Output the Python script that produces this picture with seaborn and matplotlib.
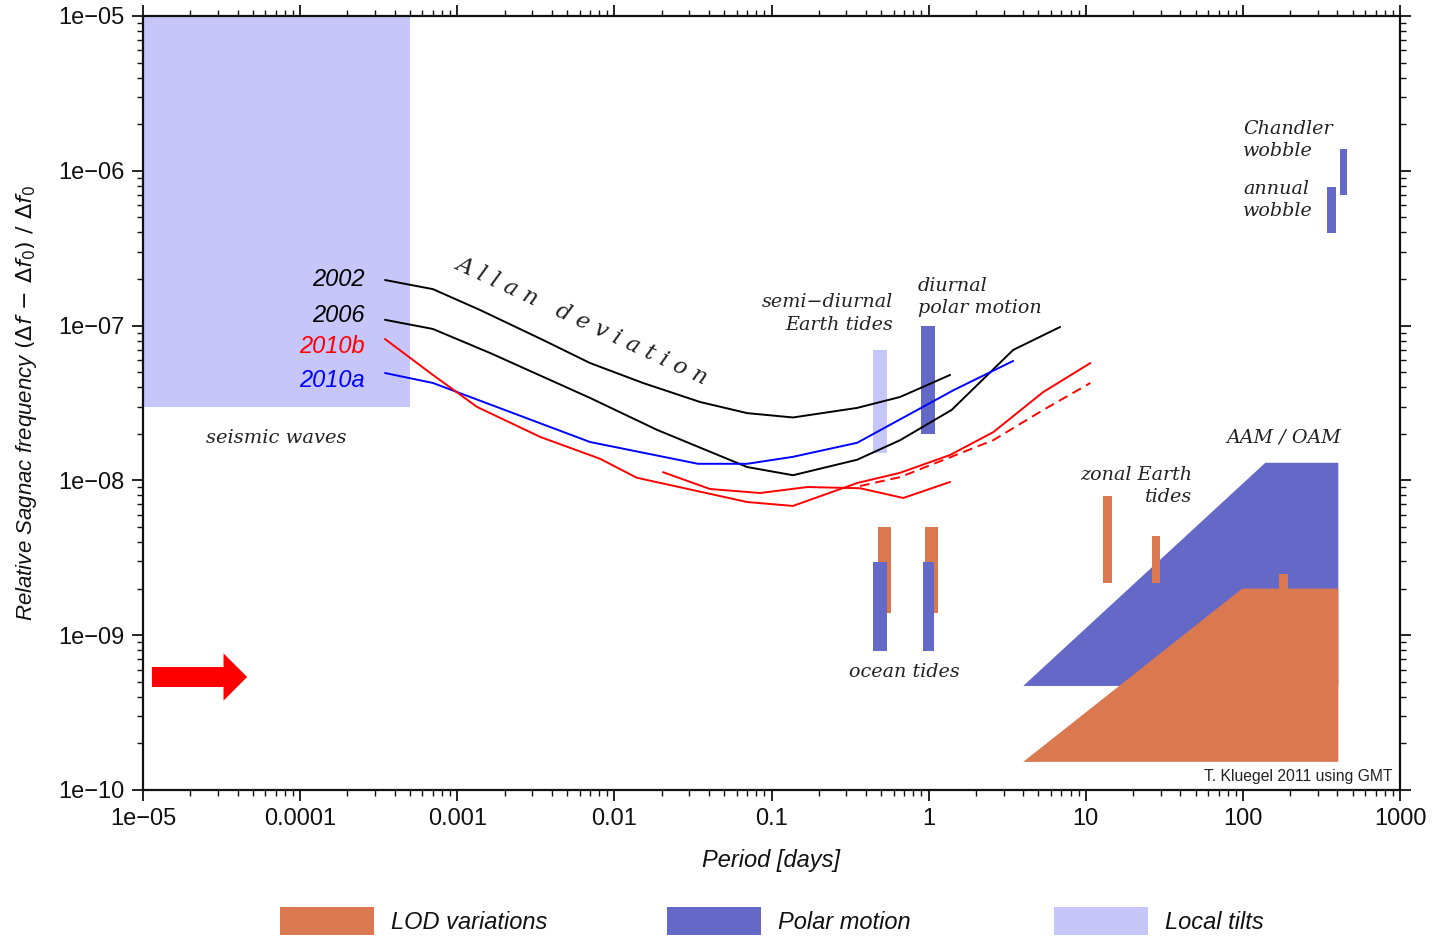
import matplotlib
matplotlib.use("Agg")
import matplotlib.pyplot as plt
import seaborn as sns
import pandas as pd
from matplotlib.patches import Patch, ArrowStyle
from matplotlib.ticker import LogLocator, NullFormatter

# ---------------- data ----------------
x_2002 = [3.47e-4, 7.0e-4, 1.40e-3, 3.52e-3, 7.0e-3, 0.0152, 0.0351, 0.070, 0.137, 0.351, 0.659, 1.37]
y_2002 = [1.97e-7, 1.72e-7, 1.26e-7, 8.07e-8, 5.73e-8, 4.26e-8, 3.21e-8, 2.72e-8, 2.55e-8, 2.94e-8, 3.46e-8, 4.80e-8]
x_2006 = [3.47e-4, 7.0e-4, 1.62e-3, 7.0e-3, 0.0187, 0.070, 0.137, 0.351, 0.659, 1.40, 3.45, 6.87]
y_2006 = [1.09e-7, 9.51e-8, 6.65e-8, 3.41e-8, 2.12e-8, 1.22e-8, 1.08e-8, 1.36e-8, 1.82e-8, 2.85e-8, 6.96e-8, 9.80e-8]
x_2010a = [3.47e-4, 7.0e-4, 7.0e-3, 0.0341, 0.070, 0.137, 0.351, 1.45, 3.45]
y_2010a = [4.94e-8, 4.26e-8, 1.77e-8, 1.28e-8, 1.28e-8, 1.42e-8, 1.75e-8, 3.84e-8, 5.91e-8]
x_2010b = [3.47e-4, 7.0e-4, 1.34e-3, 3.37e-3, 8.1e-3, 0.0139, 0.070, 0.137, 0.351, 0.659, 1.37, 2.58, 5.36, 10.7]
y_2010b = [8.19e-8, 4.80e-8, 2.98e-8, 1.91e-8, 1.38e-8, 1.04e-8, 7.25e-9, 6.84e-9, 9.62e-9, 1.12e-8, 1.46e-8, 2.05e-8, 3.72e-8, 5.73e-8]
x_2010b_2 = [0.0204, 0.0406, 0.0846, 0.169, 0.366, 0.69, 1.37]
y_2010b_2 = [1.13e-8, 8.80e-9, 8.29e-9, 9.06e-9, 8.9e-9, 7.70e-9, 9.77e-9]
x_2010b_dash = [0.366, 0.659, 2.58, 5.36, 10.7]
y_2010b_dash = [9.2e-9, 1.05e-8, 1.82e-8, 2.85e-8, 4.26e-8]

# boxes: (x0, x1, y0, y1)
tilt_boxes = [(1e-5, 5e-4, 3e-8, 1e-5),          # seismic waves
              (0.443, 0.544, 1.5e-8, 7.0e-8)]     # semi-diurnal Earth tides
lod_bars = [(0.478, 0.577, 1.39e-9, 5.0e-9),      # ocean tides
            (0.951, 1.15, 1.39e-9, 5.0e-9),
            (12.9, 14.7, 2.17e-9, 7.93e-9),       # zonal Earth tides
            (26.5, 29.8, 2.17e-9, 4.37e-9),
            (170, 194, 1.99e-9, 2.48e-9)]         # semi-annual
polar_bars = [(0.896, 1.10, 2.0e-8, 1.0e-7),      # diurnal polar motion
              (0.443, 0.544, 7.9e-10, 2.97e-9),   # ocean tides
              (0.92, 1.08, 7.9e-10, 2.97e-9),
              (344, 393, 3.97e-7, 7.86e-7),       # annual wobble
              (416, 461, 6.98e-7, 1.38e-6)]       # Chandler wobble
aam_x = [4.0, 139, 405, 405]
aam_y = [4.7e-10, 1.3e-8, 1.3e-8, 4.7e-10]
lod_x = [4.0, 99, 405, 405]
lod_y = [1.52e-10, 2.0e-9, 2.0e-9, 1.52e-10]

x_ticks = [1e-5, 1e-4, 1e-3, 1e-2, 1e-1, 1, 10, 100, 1000]
x_tick_labels = ["1e\u221205", "0.0001", "0.001", "0.01", "0.1", "1", "10", "100", "1000"]
y_ticks = [1e-10, 1e-9, 1e-8, 1e-7, 1e-6, 1e-5]
y_tick_labels = ["1e\u221210", "1e\u221209", "1e\u221208", "1e\u221207", "1e\u221206", "1e\u221205"]

legend_labels = ["LOD variations", "Polar motion", "Local tilts"]

# ---------------- style ----------------
C_LOD = "#DA7850"
C_POLAR = "#6468C6"
C_TILT = "#C6C6FA"
INK = "#111111"

sns.set_theme(style="ticks")
plt.rcParams["font.family"] = ["Liberation Sans", "DejaVu Sans"]
plt.rcParams["mathtext.fontset"] = "dejavusans"
plt.rcParams["text.color"] = INK
plt.rcParams["axes.labelcolor"] = INK
plt.rcParams["xtick.color"] = INK
plt.rcParams["ytick.color"] = INK

fig = plt.figure(figsize=(14.39, 9.40), dpi=100)
ax = fig.add_axes([143 / 1439, 1 - 790 / 940, (1400 - 143) / 1439, (790 - 16) / 940])
ax.set_xscale("log")
ax.set_yscale("log")


def box(b, color, z):
    ax.fill_between([b[0], b[1]], [b[2], b[2]], [b[3], b[3]], color=color, lw=0, zorder=z)


for b in tilt_boxes:
    box(b, C_TILT, 1)
ax.fill(aam_x, aam_y, color=C_POLAR, lw=0, zorder=1)
ax.fill(lod_x, lod_y, color=C_LOD, lw=0, zorder=1.5)
for b in lod_bars:
    box(b, C_LOD, 2)
for b in polar_bars:
    box(b, C_POLAR, 2.5)

lw = 1.4
for xs, ys, c, ls in [(x_2002, y_2002, "black", "-"), (x_2006, y_2006, "black", "-"),
                      (x_2010a, y_2010a, "blue", "-"), (x_2010b, y_2010b, "red", "-"),
                      (x_2010b_2, y_2010b_2, "red", "-"),
                      (x_2010b_dash, y_2010b_dash, "red", (0, (5, 3)))]:
    sns.lineplot(x=xs, y=ys, color=c, linewidth=lw, linestyle=ls, ax=ax,
                 estimator=None, sort=False, zorder=3)

ax.set_xlim(1e-5, 1000)
ax.set_ylim(1e-10, 1e-5)
ax.set_xticks(x_ticks)
ax.set_xticklabels(x_tick_labels)
ax.set_yticks(y_ticks)
ax.set_yticklabels(y_tick_labels)
ax.xaxis.set_minor_locator(LogLocator(base=10, subs=range(2, 10), numticks=20))
ax.yaxis.set_minor_locator(LogLocator(base=10, subs=range(2, 10), numticks=20))
ax.xaxis.set_minor_formatter(NullFormatter())
ax.yaxis.set_minor_formatter(NullFormatter())
ax.tick_params(which="both", direction="out", top=True, right=True, color=INK)
ax.tick_params(which="major", length=8, width=1.3, labelsize=17, pad=5)
ax.tick_params(which="minor", length=4, width=1.0)
for s in ax.spines.values():
    s.set_linewidth(1.6)
    s.set_color(INK)

ax.set_xlabel("Period [days]", fontsize=17, style="italic", labelpad=14)
ax.set_ylabel(r"Relative Sagnac frequency $(\Delta \mathit{f}\,-\,\Delta \mathit{f}_{0})\ /\ \Delta \mathit{f}_{0}$",
              fontsize=16, style="italic", labelpad=14)

# year labels
for txt, yv, c in [("2002", 2.0e-7, "black"), ("2006", 1.17e-7, "black"),
                   ("2010b", 7.38e-8, "red"), ("2010a", 4.45e-8, "blue")]:
    ax.text(2.59e-4, yv, txt, ha="right", va="center", fontsize=17, style="italic", color=c, zorder=4)

serif = dict(family="DejaVu Serif", style="italic", color="#222222", zorder=4)
ax.text(6.2e-3, 1.07e-7, "A l l a n   d e v i a t i o n", rotation=-25, ha="center", va="center",
        fontsize=16.5, rotation_mode="anchor", **serif)
ax.text(7.0e-5, 1.88e-8, "seismic waves", ha="center", va="center", fontsize=14, **serif)
ax.text(0.594, 1.2e-7, "semi\u2212diurnal\nEarth tides", ha="right", va="center", multialignment="right",
        fontsize=13.8, linespacing=1.4, **serif)
ax.text(0.857, 1.53e-7, "diurnal\npolar motion", ha="left", va="center", fontsize=13.8, linespacing=1.25, **serif)
ax.text(0.698, 5.78e-10, "ocean tides", ha="center", va="center", fontsize=13.8, **serif)
ax.text(47.6, 9.2e-9, "zonal Earth\ntides", ha="right", va="center", multialignment="right",
        fontsize=13.8, linespacing=1.35, **serif)
ax.text(183, 1.88e-8, "AAM / OAM", ha="center", va="center", fontsize=13.8, **serif)
ax.text(100.5, 1.58e-6, "Chandler\nwobble", ha="left", va="center", fontsize=13.8, linespacing=1.3, **serif)
ax.text(100.5, 6.48e-7, "annual\nwobble", ha="left", va="center", fontsize=13.8, linespacing=1.25, **serif)
ax.text(0.994, 0.008, "T. Kluegel 2011 using GMT", transform=ax.transAxes, ha="right", va="bottom",
        fontsize=11.3, color="#222222")

# red arrow
ax.annotate("", xy=(4.6e-5, 5.37e-10), xytext=(1.14e-5, 5.37e-10),
            arrowprops=dict(arrowstyle=ArrowStyle.Simple(head_length=17, head_width=34, tail_width=14.4),
                            mutation_scale=1, color="red", lw=0, shrinkA=0, shrinkB=0), zorder=4)

# legend
for lab, col, xpos in zip(legend_labels, [C_LOD, C_POLAR, C_TILT], [280, 667, 1054]):
    fig.legend(handles=[Patch(facecolor=col, edgecolor="none")], labels=[lab],
               loc="center left", bbox_to_anchor=(xpos / 1439, 1 - 921 / 940),
               frameon=False, borderpad=0, borderaxespad=0,
               handlelength=4.0, handleheight=1.4, handletextpad=0.7,
               prop=dict(size=17, style="italic"))

fig.savefig("out.png", dpi=100)
